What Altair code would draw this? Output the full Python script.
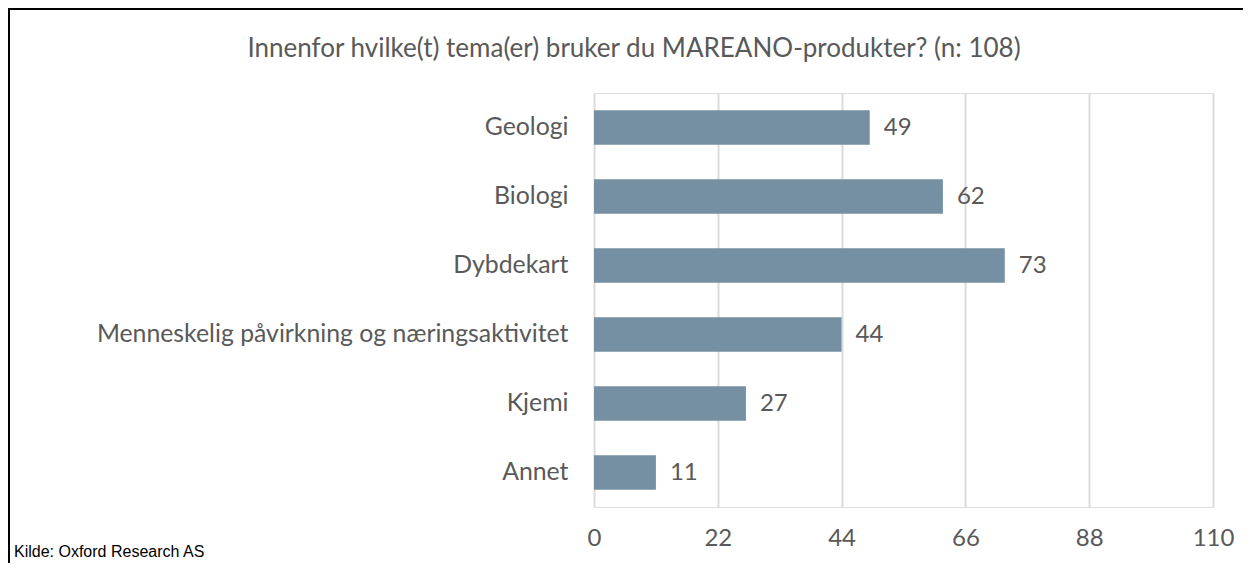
import altair as alt
import pandas as pd

categories = ["Geologi", "Biologi", "Dybdekart",
              "Menneskelig påvirkning og næringsaktivitet", "Kjemi", "Annet"]
values = [49, 62, 73, 44, 27, 11]
x_ticks = [0, 22, 44, 66, 88, 110]
title_text = "Innenfor hvilke(t) tema(er) bruker du MAREANO-produkter? (n: 108)"
source_text = "Kilde: Oxford Research AS"

df = pd.DataFrame({"tema": categories, "antall": values})

FONT = "Lato"
GRAY = "#595959"
W, H = 619, 414
PAD_L, PAD_T, PAD_R, PAD_B = 586, 85, 30, 56

x_enc = alt.X("antall:Q",
              scale=alt.Scale(domain=[0, 110], nice=False),
              axis=alt.Axis(values=x_ticks, title=None, grid=True, gridColor="#dcdcdc",
                            gridWidth=2, domain=False, ticks=False, labelFont=FONT,
                            labelFontSize=24, labelColor=GRAY, labelPadding=19,
                            labelFlush=False))
y_enc = alt.Y("tema:N", sort=categories,
              scale=alt.Scale(paddingInner=0.5, paddingOuter=0.25),
              axis=alt.Axis(title=None, domain=False, ticks=False, labelFont=FONT,
                            labelFontSize=24.8, labelColor=GRAY, labelPadding=26,
                            labelLimit=600))

bars = alt.Chart(df).mark_bar(color="#7490a2").encode(x=x_enc, y=y_enc)
labels = alt.Chart(df).mark_text(align="left", dx=14, font=FONT, fontSize=24,
                                 color=GRAY).encode(x="antall:Q", y=alt.Y("tema:N", sort=categories),
                                                    text="antall:Q")

title = alt.Chart(pd.DataFrame({"t": [title_text]})).mark_text(
    font=FONT, fontSize=26, color=GRAY, align="center", baseline="middle"
).encode(x=alt.value(40), y=alt.value(-44), text="t:N")

source = alt.Chart(pd.DataFrame({"t": [source_text]})).mark_text(
    font="Liberation Sans", fontSize=16, color="#000000", align="left", baseline="alphabetic"
).encode(x=alt.value(-PAD_L + 6), y=alt.value(H + 50), text="t:N")

border_top = alt.Chart(pd.DataFrame({"a": [0]})).mark_rule(color="#000000", strokeWidth=2).encode(
    x=alt.value(-PAD_L), x2=alt.value(W + PAD_R), y=alt.value(-PAD_T + 1))
border_left = alt.Chart(pd.DataFrame({"a": [0]})).mark_rule(color="#000000", strokeWidth=2).encode(
    x=alt.value(-PAD_L + 1), y=alt.value(-PAD_T), y2=alt.value(H + PAD_B))

chart = alt.layer(bars, labels, title, source, border_top, border_left).properties(
    width=W, height=H,
    autosize=alt.AutoSizeParams(type="none"),
    padding={"left": PAD_L, "top": PAD_T, "right": PAD_R, "bottom": PAD_B},
).configure_view(stroke=None).configure(background="white")

chart.save("out.html", embed_options={"renderer": "svg", "actions": False})
